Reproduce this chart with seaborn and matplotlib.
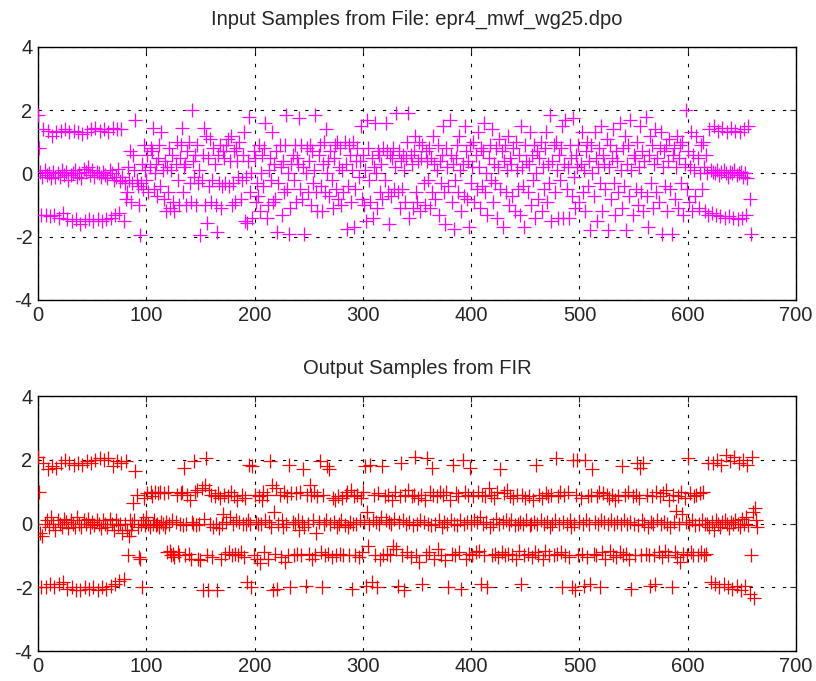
import numpy as np
import matplotlib
matplotlib.use('agg')
import matplotlib.pyplot as plt
import seaborn as sns

# Muestras de entrada (preambulo, datos, preambulo final)
in_head = [
    1.85, 0.8, 0.05, -1.3, -0.1, 1.4, 0.1, -1.3, -0.05, 1.35, 0.0, -1.35, -0.15, 1.2, 0.05, -1.3, -0.1, 1.3, 0.0, -1.4,
    -0.1, 1.35, 0.1, -1.25, -0.05, 1.4, 0.05, -1.45, -0.2, 1.3, -0.05, -1.5, 0.0, 1.35, 0.1, -1.45, -0.1, 1.3, 0.0, -1.6,
    -0.15, 1.25, 0.15, -1.5, 0.05, 1.3, 0.2, -1.45, -0.05, 1.4, 0.1, -1.5, -0.1, 1.45, 0.05, -1.45, 0.0, 1.35, -0.1, -1.5,
    0.05, 1.4, -0.05, -1.45, -0.15, 1.3, 0.1, -1.4, 0.0, 1.45, -0.2, -1.3, -0.1, 1.4, 0.15, -1.25, -0.25, 1.4, -0.1, -1.5,
    -0.3, -0.8,
]
in_mid = [
    -0.6, 0.2, -0.2, 0.7, -0.9, -0.3, 0.6, 0.1, 1.7, -0.2, -0.4, -1.0, -1.95, -0.3, 0.3, -0.5, 0.9, 0.1, -0.2, 0.6,
    -0.6, 0.2, 0.8, 0.7, 1.45, -0.5, 0.0, 0.3, -0.7, 0.5, 0.9, -0.4, 1.3, 0.1, -0.8, 0.4, -1.2, 0.2, -0.6, 0.8,
    -1.1, 0.1, 0.6, -0.9, -1.2, 0.3, 1.0, -0.2, -1.0, 0.5, 0.9, 1.45, -0.6, 0.2, 0.3, -1.0, 0.7, 1.0, -0.3, -0.9,
    2.0, 0.4, -0.1, 0.6, -1.0, 0.9, -0.3, 0.1, -1.95, -0.2, 0.6, 1.45, -1.0, 1.2, -1.55, 0.5, -0.4, 1.1, -0.9, -0.2,
    0.8, 0.3, -1.0, -1.85, 0.6, -0.3, 0.9, -1.1, -0.4, 0.7, 0.5, -0.3, 0.9, 1.1, -0.4, 0.4, 1.2, -1.0, -0.3, 0.7,
    -0.9, 0.8, 0.4, -0.1, 1.0, -0.8, -0.2, 0.6, 1.3, -1.5, -0.1, -1.55, 0.4, 1.8, -0.6, 0.0, -1.4, 0.7, 0.5, -0.9,
    -0.3, -0.7, 0.9, -1.2, 0.0, 0.6, -0.4, 0.8, 1.6, -1.4, -1.0, 0.1, 0.5, -0.2, 1.3, -0.9, 0.3, -0.8, 0.7, -1.85,
    -0.3, 0.9, 0.2, -1.3, 0.4, -0.6, 0.9, 1.85, -0.5, 0.0, -1.9, -1.1, 0.3, 0.6, -0.2, 0.9, -0.9, 0.5, 0.3, 1.75,
    -0.5, 0.9, -0.8, 0.2, -1.9, 0.0, 0.8, -0.6, 0.4, 0.9, -1.0, 0.7, -0.3, 0.1, 1.85, -0.6, -1.2, 0.6, 0.9, -0.4,
    -1.2, 0.3, 1.0, -0.6, 1.4, 0.0, 0.4, -0.7, 0.7, -0.2, -1.1, 0.5, 0.9, -0.5, 1.0, -0.8, 0.2, 0.8, -1.0, 0.1,
    -0.6, 1.0, 0.3, -1.75, -0.4, 0.9, 0.6, -0.9, 0.1, 1.0, -1.7, -0.5, 0.4, 0.8, -0.1, 0.4, 1.5, -0.8, 0.6, -1.0,
    0.1, -1.5, 1.7, 0.8, -0.2, -0.9, 0.5, -1.4, 0.2, 1.6, 0.0, -1.1, 0.7, 0.6, -0.6, 0.3, -0.8, 0.8, -0.2, 1.6,
    0.7, -0.6, -1.6, 0.6, -0.7, 0.5, 0.8, -0.5, 0.2, 1.9, -0.6, 0.7, -1.1, 0.4, -0.5, 0.6, 0.1, -0.9, 0.5, 1.0,
    1.9, -1.4, 0.6, 0.3, -1.1, 0.7, 1.2, -0.6, -0.9, 0.4, 1.0, -1.2, 0.5, 0.9, -0.3, -1.0, 0.7, 0.4, -0.2, 0.8,
    -1.1, 0.5, -0.6, 1.2, 0.3, -0.8, 0.1, 0.9, -1.3, 0.4, -0.3, 0.6, 1.5, -0.6, -1.6, 0.8, 0.2, -0.4, 1.7, 0.6,
    -0.9, 0.3, -1.75, -0.2, 0.5, 0.9, -0.6, 1.2, 0.1, -1.2, 0.3, -0.7, 1.5, 0.7, -0.8, 0.4, -1.7, 0.9, -0.3, 0.2,
    1.0, -0.9, 0.6, -0.5, 1.3, 0.2, -1.1, 0.8, -0.4, 0.7, 1.6, -0.6, 0.0, -1.3, 0.5, 0.9, -0.2, 1.4, -0.9, 0.3,
    -0.3, 0.8, -1.4, 0.2, 1.1, -0.5, 0.7, -1.7, 0.4, 0.9, -0.6, 0.1, 1.2, -1.0, 0.5, 0.3, -0.7, 0.8, -1.2, 1.0,
    0.1, -0.5, 0.6, -1.3, 1.5, 0.2, -0.4, -1.7, 0.9, 0.4, -0.6, 0.3, 1.3, -1.0, 0.6, -0.2, 0.9, -1.4, 0.0, 0.7,
    -0.8, 0.5, 1.0, -1.2, 0.2, -0.5, 0.8, 1.3, -0.9, 0.3, -0.3, 1.85, -1.5, 0.4, 0.9, -0.6, 1.0, 0.1, -1.4, 0.6,
    -0.2, 0.8, 1.5, -1.4, 0.3, 1.7, -0.5, 0.2, -1.4, 0.9, 0.5, -0.7, 1.75, -0.1, -1.1, 0.6, 0.2, 0.9, -0.9, 0.3,
    1.3, -0.6, 0.1, -1.2, 0.7, 1.0, -0.4, 0.4, -1.8, 0.9, 0.0, -0.7, 1.3, 0.5, -1.5, 0.2, 0.8, -0.3, 1.5, -1.2,
    0.6, 0.3, -0.5, 1.1, -1.8, 0.2, 0.9, -0.8, 0.5, 1.4, -0.3, -1.3, 0.7, 0.4, -0.6, 1.6, 0.1, -1.1, 0.8, -0.4,
    1.2, -1.8, 0.3, 0.9, -0.7, 1.7, 0.1, -1.3, 0.6, 0.5, -0.5, 1.0, -1.0, 0.2, 1.5, -0.6, 0.7, -1.2, 0.4, 1.8,
    -0.7, -1.7, 0.6, 1.2, -0.3, 0.9, -1.1, 0.3, 1.4, -0.6, 0.5, -0.9, 0.8, 1.3, -1.9, 0.2, 0.7, -0.4, 0.9, -1.2,
    0.4, 1.1, -0.5, -1.9, 0.6, 0.8, -0.8, 0.2, 1.2, -1.1, 0.5, 0.9, -0.3, 1.0, -1.3, 0.3, 2.0, -0.5, 0.7, -0.9,
    0.2, 1.3, -1.2, 0.6, 0.1, -0.7, 1.2, 0.5, -1.1, 0.0, 0.9, -0.5, 1.0, 0.2, -1.2, 0.6, 0.0, -1.3, 1.4, 0.1,
]
in_tail = [
    -1.25, 0.05, 1.5, 0.0, -1.3, 0.1, 1.35, -0.05, -1.35, 0.05, 1.45, 0.1, -1.4, 0.0, 1.3, -0.1, -1.35, 0.05, 1.45, 0.0,
    -1.4, 0.1, 1.35, -0.05, -1.45, 0.0, 1.3, 0.05, -1.4, -0.1, 1.4, 0.0, -1.3, -0.15, 1.5, -0.8, -1.9,
]

# Muestras de salida del FIR
out_head = [
    2.1, 1.0, -0.3, -2.0, -0.4, 1.9, 0.0, -2.0, 0.1, 1.7, -0.1, -1.9, 0.2, 1.8, 0.0, -2.0, -0.2, 1.75, 0.1, -1.9,
    0.0, 1.9, -0.1, -1.85, 0.15, 2.0, 0.05, -2.05, -0.15, 1.9, 0.1, -2.0, 0.0, 1.85, -0.1, -2.1, 0.2, 1.9, 0.0, -2.1,
    -0.1, 1.85, 0.1, -2.0, 0.0, 1.95, 0.15, -2.05, -0.1, 1.9, 0.05, -2.0, -0.05, 2.0, 0.1, -2.1, 0.0, 2.05, -0.15, -2.0,
    0.1, 2.0, 0.0, -2.05, -0.1, 2.05, 0.15, -1.95, 0.0, 1.8, -0.2, -1.9, 0.1, 1.95, -0.05, -1.8, 0.0, 1.9, -0.3, -1.75,
    0.0, 1.95, -0.2, -1.0, -0.4,
]
out_mid = [
    0.1, -0.2, 0.0, 0.65, 0.1, 1.65, 0.9, -0.1, -1.05, -1.1, 0.0, -2.0, 0.1, 0.8, -0.05, 0.2, 0.95, 0.0, -0.1, 1.0,
    0.85, 0.0, 0.1, 1.0, -0.05, 0.0, 0.95, -0.1, 1.0, 0.05, 0.0, 0.95, -0.1, 0.05, -0.9, 1.0, 0.0, -0.85, -1.0, 0.1,
    -0.95, -1.05, 0.05, 0.9, -0.9, -1.0, 0.0, 0.95, 1.0, -0.05, 1.75, -1.0, 0.0, 0.9, -0.95, 0.75, -1.1, 0.05, 0.0, 1.95,
    1.0, -0.05, 1.05, -1.1, 0.0, -1.15, 1.1, -2.1, 0.15, 1.2, 2.05, -1.0, -2.1, 1.05, 0.0, 0.9, -1.05, -0.1, 0.85, 0.0,
    -2.1, 0.95, -0.15, 0.8, -1.1, 0.0, 0.3, 0.9, -0.95, 0.05, 0.85, -0.9, 0.2, 1.0, -1.0, 0.0, 0.85, -0.95, 0.1, 0.75,
    -1.0, 0.05, -0.9, 0.9, 0.0, -1.05, 0.8, 0.0, -1.85, 0.1, 1.85, 0.0, -2.0, 1.8, -1.0, 0.9, 0.05, -1.1, 0.0, 0.85,
    -1.25, 0.0, 0.75, 1.0, -0.9, 0.1, 0.9, -1.1, 0.05, 1.95, -0.1, 1.2, -2.1, 0.35, -0.95, 1.1, -2.05, 0.0, 0.9, -1.05,
    0.1, -0.1, 1.0, -1.2, 0.0, 0.85, -1.0, 1.85, -2.0, 0.95, 0.05, -1.0, 0.0, 0.95, -0.95, 0.1, -0.2, 1.0, -1.0, 0.05,
    1.7, -0.1, -1.95, 0.9, 0.0, -0.95, 1.2, 0.9, -1.1, 0.1, 1.0, -1.0, -0.3, 0.85, 0.05, 1.95, -0.9, -2.0, 0.9, 0.0,
    -1.0, 0.1, 1.8, -0.95, 1.7, 0.0, -1.05, 0.8, 0.05, 0.75, -1.0, -0.1, 0.85, 0.0, -0.95, 0.1, 0.8, -1.0, -0.05, 0.9,
    1.0, -0.1, -1.0, 0.05, 1.05, -2.05, 0.0, 0.85, -1.0, 0.0, 0.9, -1.05, 0.1, 0.8, -0.9, 1.0, 0.05, 1.8, -1.95, 0.35,
    -0.7, 0.0, 1.85, -1.85, 0.1, 0.9, -1.0, 0.05, -2.0, 0.95, 0.0, -1.1, 0.2, 1.8, -1.0, 0.85, 0.1, -0.95, 0.9, 0.05,
    -1.0, 0.0, 0.75, -0.7, 0.15, 1.0, -0.8, -1.95, 0.05, 0.85, 1.9, -1.0, 0.1, -2.1, 0.9, 0.0, -0.9, 1.05, 0.05, -1.05,
    0.85, -0.05, 0.9, 2.1, -1.0, 0.0, 0.8, -1.2, 0.1, 0.9, -1.9, 0.05, 0.75, -1.0, 2.05, 0.0, -0.9, 1.0, -0.05, 1.75,
    0.9, -1.1, 0.0, 0.85, -0.8, 0.1, 1.0, -1.0, -0.1, 0.9, 0.05, -1.15, 1.0, 0.0, -2.0, 0.75, 0.1, -0.95, 1.85, 0.0,
    -1.0, 0.95, -0.05, 0.85, -0.9, 0.1, -2.05, 2.0, 0.0, 1.0, -1.1, 0.05, 0.9, -0.95, 1.75, 0.0, -1.0, 0.85, 0.1, -0.9,
    0.05, 1.0, -0.85, 0.2, -1.9, 0.9, 0.0, -1.0, 0.85, 0.05, -2.0, 1.1, -0.1, 0.9, -1.0, 0.0, 0.8, -0.95, 0.15, 1.0,
    -1.05, 0.0, 1.7, -0.9, 0.05, 0.95, -1.0, 0.1, 1.05, -0.95, 0.0, 0.85, 0.1, -1.0, 0.8, -0.05, -1.1, 0.9, 0.0, -0.85,
    0.05, -1.9, 0.9, 0.0, -1.0, 0.8, 0.1, -0.95, 0.85, -0.05, 0.0, -1.05, 0.75, 0.05, -0.9, 1.85, 0.0, -1.0, 0.9, 0.1,
    0.8, -1.1, 0.0, -0.85, 0.95, 0.05, 0.85, -1.0, -0.1, 0.9, 0.0, -1.0, 0.1, 2.05, -0.95, 0.85, 0.0, 1.0, -0.9, -2.0,
    0.05, 0.9, -1.0, 0.0, 1.0, -1.05, 0.1, -0.1, -2.0, 2.0, 0.0, -2.1, 0.9, 2.0, -1.0, 0.05, 0.8, -0.95, 0.0, -1.95,
    2.0, 0.1, -1.05, 0.85, 0.0, -1.9, 0.9, 1.7, -0.95, 0.05, -1.0, 0.85, 0.0, 1.0, -2.0, 0.1, -0.9, 0.95, 0.05, -1.1,
    0.9, 0.0, 0.8, -0.85, 0.1, 0.9, -1.0, 0.0, 0.75, -1.05, 0.05, 0.85, -0.9, 0.0, 1.8, -1.0, 0.1, 0.9, -0.95, 0.0,
    1.0, -1.1, 0.05, -2.05, 0.85, 0.0, -1.0, 0.9, 1.9, -0.05, 0.8, 1.75, -1.0, 0.1, 1.9, 0.0, -0.95, 0.9, -0.1, -1.0,
    -1.95, 0.05, 0.85, 0.0, -1.0, -1.9, 1.0, 0.1, -0.9, 0.85, 0.0, -1.05, 0.95, 0.05, -0.85, 1.05, 0.0, -1.0, 0.75, -0.1,
    -2.0, 0.9, 0.05, -0.9, 0.4, -1.05, 0.85, 0.0, -1.2, 1.0, 0.3, -0.95, 0.8, 0.05, -1.0, 2.05, 0.0, 0.95, -0.9, 0.1,
    -1.0, 0.85, -0.05, 0.9, -1.0, 0.0, 0.95, -0.9, 0.1, 1.0, -1.0, 0.0, -0.95, 0.0, 1.9, -0.1, -1.85, 0.05, 1.9, -0.2,
]
out_tail = [
    -1.9, 0.1, 2.0, 0.0, -2.0, -0.1, 1.85, 0.05, -1.9, 0.1, 2.15, 0.0, -2.0, -0.15, 1.95, 0.05, -2.05, 0.0, 2.1, 0.1,
    -1.95, 0.0, 1.9, -0.1, -2.1, 0.15, 2.0, 0.0, -1.95, 0.2, 1.85, -0.05, -2.2, -1.0, 2.1, 0.35, -2.35, 0.5, 0.1, -0.1,
]

x_ticks = [0, 100, 200, 300, 400, 500, 600, 700]
y_ticks = [-4, -2, 0, 2, 4]

input_samples = np.array(in_head + in_mid + in_tail)
output_samples = np.array(out_head + out_mid + out_tail)

sns.set_style('white')
plt.rcParams['font.family'] = ['Liberation Sans', 'DejaVu Sans']
plt.rcParams['axes.unicode_minus'] = False

fig = plt.figure(figsize=(8.16, 6.81), dpi=100)
ax1 = fig.add_axes([0.0466, 0.5595, 0.929, 0.3715])
ax2 = fig.add_axes([0.0466, 0.044, 0.929, 0.3745])

paneles = [
    (ax1, input_samples, '#ff00ff', 'Input Samples from File: epr4_mwf_wg25.dpo'),
    (ax2, output_samples, '#ff0000', 'Output Samples from FIR'),
]

for ax, vals, col, titulo in paneles:
    idx = np.arange(len(vals))
    sns.scatterplot(x=idx, y=vals, marker='+', color=col, s=110, linewidth=0.9, ax=ax, zorder=3)
    ax.set_xlim(0, 700)
    ax.set_ylim(-4, 4)
    ax.set_xticks(x_ticks)
    ax.set_yticks(y_ticks)
    ax.tick_params(direction='in', length=4, labelsize=14.5, top=True, right=True, pad=4, width=0.8)
    for s in ax.spines.values():
        s.set_color('black')
        s.set_linewidth(1.0)
    ax.grid(True, color='black', linestyle=(0, (3, 7)), linewidth=0.8)
    ax.set_title(titulo, fontsize=14.5, pad=16)
    ax.set_xlabel('')
    ax.set_ylabel('')

fig.savefig('out.png', dpi=100)
